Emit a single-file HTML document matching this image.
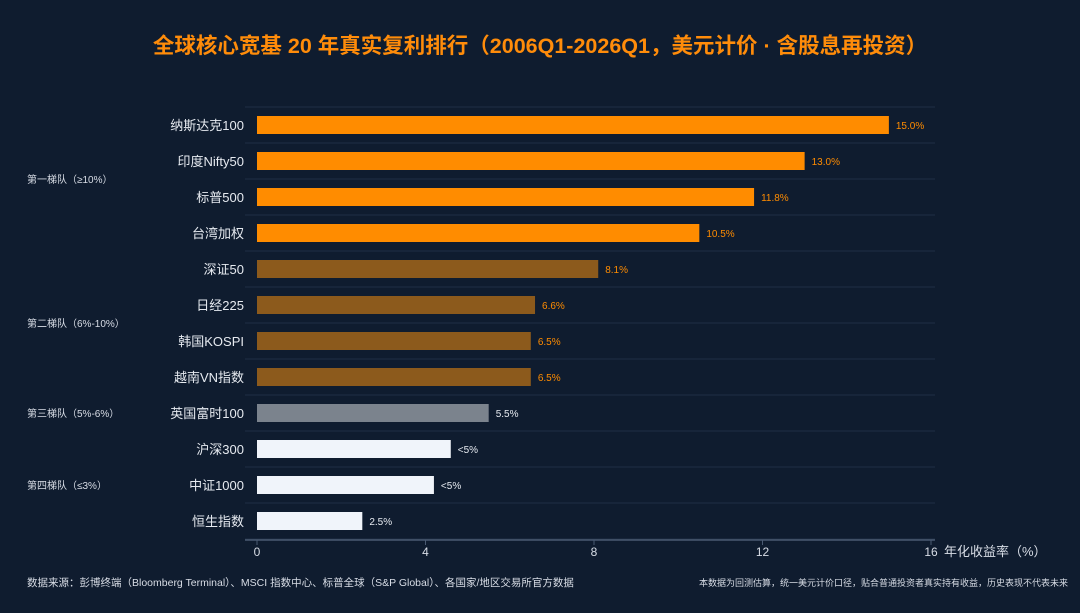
<!DOCTYPE html>
<html><head><meta charset="utf-8"><style>
html,body{margin:0;padding:0;background:#0f1c2f;}
body{width:1080px;height:608px;overflow:hidden;font-family:"Liberation Sans","Noto Sans CJK SC",sans-serif;}
</style></head><body>
<svg id="chart" width="1080" height="608" xmlns="http://www.w3.org/2000/svg" font-family="Liberation Sans, Noto Sans CJK SC, sans-serif">
<rect width="1080" height="608" fill="#0f1c2f"/>
<text x="540" y="53" text-anchor="middle" font-size="21.5" font-weight="bold" fill="#ff8c0a">全球核心宽基 20 年真实复利排行（2006Q1-2026Q1，美元计价 · 含股息再投资）</text>
<g id="grid"></g><g id="bars"></g><g id="axis"></g>
<text x="944" y="556" font-size="13" fill="#d8dde6">年化收益率（%）</text>
<text x="27" y="183" font-size="10" fill="#d8dde6">第一梯队（≥10%）</text>
<text x="27" y="327" font-size="10" fill="#d8dde6">第二梯队（6%-10%）</text>
<text x="27" y="417" font-size="10" fill="#d8dde6">第三梯队（5%-6%）</text>
<text x="27" y="489" font-size="10" fill="#d8dde6">第四梯队（≤3%）</text>
<text x="27" y="586" font-size="10.5" fill="#d8dde6">数据来源：彭博终端（Bloomberg Terminal）、MSCI 指数中心、标普全球（S&amp;P Global）、各国家/地区交易所官方数据</text>
<text x="1068" y="586" text-anchor="end" font-size="9" fill="#d8dde6">本数据为回测估算，统一美元计价口径，贴合普通投资者真实持有收益，历史表现不代表未来</text>
</svg>
<script>
const categories=["纳斯达克100","印度Nifty50","标普500","台湾加权","深证50","日经225","韩国KOSPI","越南VN指数","英国富时100","沪深300","中证1000","恒生指数"];
const values=[15.0,13.0,11.8,10.5,8.1,6.6,6.5,6.5,5.5,4.6,4.2,2.5];
const valueLabels=["15.0%","13.0%","11.8%","10.5%","8.1%","6.6%","6.5%","6.5%","5.5%","<5%","<5%","2.5%"];
const tiers=[1,1,1,1,2,2,2,2,3,4,4,4];
const ticks=[0,4,8,12,16];
const NS="http://www.w3.org/2000/svg";
const x=v=>257+v*(931-257)/16;
const y=i=>125+i*36;
const fills={1:"#ff8c00",2:"#8c5a1c",3:"#7b838d",4:"#f0f4fa"};
const lblc={1:"#ff8c00",2:"#ff8c00",3:"#e6eaf0",4:"#e6eaf0"};
function mk(t,a,p){const e=document.createElementNS(NS,t);for(const k in a)e.setAttribute(k,a[k]);document.getElementById(p).appendChild(e);return e;}
for(let i=0;i<=categories.length;i++){
 const g=mk("line",{x1:245,x2:935,y1:y(i)-18,y2:y(i)-18,stroke:"#1f2e45","stroke-width":1},"grid");
 
 
}
categories.forEach((c,i)=>{
 const r=mk("rect",{x:x(0),y:y(i)-9,width:x(values[i])-x(0),height:18,fill:fills[tiers[i]]},"bars");
 
 
 const l=mk("text",{x:244,y:y(i)+5,"text-anchor":"end","font-size":13,fill:"#e6eaf0"},"bars");l.textContent=c;
 
 
 const v=mk("text",{x:x(values[i])+7,y:y(i)+4,"font-size":10,fill:lblc[tiers[i]]},"bars");v.textContent=valueLabels[i];
 
 
});
const ax=mk("line",{x1:245,x2:935,y1:540,y2:540,stroke:"#4a5a72","stroke-width":1.5},"axis");


ticks.forEach(t=>{
 const tl=mk("line",{x1:x(t),x2:x(t),y1:540,y2:545,stroke:"#4a5a72"},"axis");
 
 
 const tt=mk("text",{x:x(t),y:556,"text-anchor":"middle","font-size":12,fill:"#d8dde6"},"axis");tt.textContent=t;
 
 
});
</script>
</body></html>
